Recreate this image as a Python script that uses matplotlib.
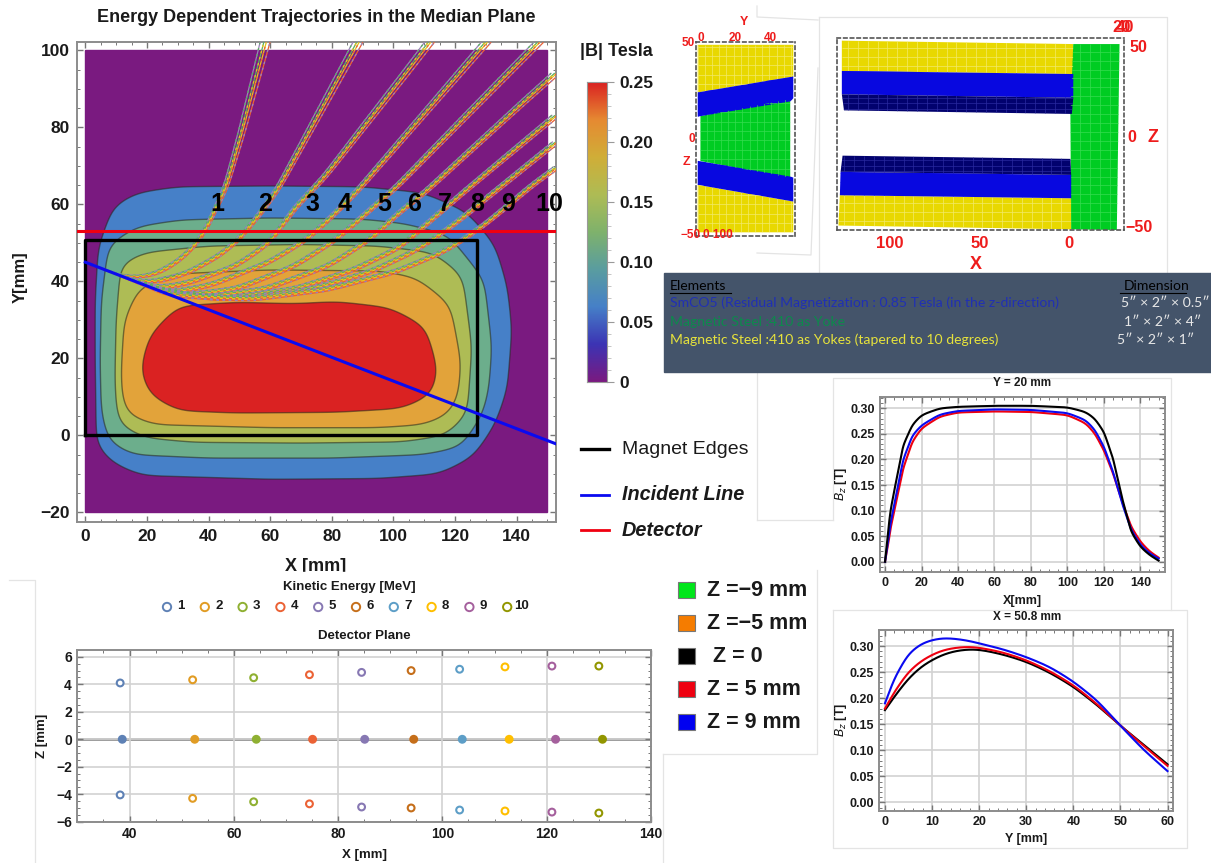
#!/usr/bin/env python
# -*- coding: utf-8 -*-
"""
Magnet spectrometer summary figure: median plane field map with trajectories,
magnet geometry views, detector plane hits and Bz profiles
"""

import numpy as np
import matplotlib

matplotlib.use("Agg")
import matplotlib.pyplot as plt
from matplotlib.colors import LinearSegmentedColormap
from matplotlib.patches import Polygon

plt.rcParams["font.family"] = ["Liberation Sans", "DejaVu Sans"]

W, H = 1211, 863

# field contours in the median plane, X and Y in mm
LEVEL_COLORS = ("#4680c8", "#6cae8c", "#aebc55", "#e2a33a", "#da2222")
BLUE_X = [3.2, 3.2, 4.2, 9, 16.5, 30, 60, 90, 110, 124, 133, 137, 138.5, 137, 133, 126, 115, 95, 60, 18, 8.5, 3.6]
BLUE_Y = [20, 35, 49, 59.5, 63, 64.6, 64.8, 64.6, 63, 58, 49.5, 38.7, 27.5, 12, 2.8, -5.5, -10, -11.2, -11.4, -10.4, -7, -2.5]
TEAL_X = [4.8, 5.2, 7.5, 16.5, 31, 60, 90, 104, 118, 129.5, 132, 131, 129, 122, 110, 80, 40, 15, 7.5, 5.2]
TEAL_Y = [19, 35, 49.5, 54.2, 56, 56.5, 56.2, 55, 52, 40.5, 23, 12, 5.5, -3, -5, -5.9, -5.9, -5, -1.5, 6]
OLIVE_X = [9.6, 10, 11.5, 19, 40, 70, 95, 113, 122.5, 125.5, 124, 117, 103, 70, 35, 19, 11, 10]
OLIVE_Y = [14.5, 30, 44.5, 47.5, 49.2, 49.6, 49.2, 47.5, 41.5, 23, 5.5, 0, -1.7, -2, -1.8, -0.6, 2.8, 8]
ORANGE_X = [11.6, 12.6, 17.5, 30, 60, 96, 107.5, 118.5, 122, 121, 118, 110, 95, 60, 22, 13.5, 12]
ORANGE_Y = [16, 30, 38.5, 42, 43, 42.7, 41, 34, 19, 10, 5.5, 2.8, 2, 2, 2.8, 5.5, 10]
RED_X = [17.8, 20.8, 30, 49, 68, 81.6, 99, 110.5, 114.5, 112.5, 103, 81.6, 49, 30, 20.8]
RED_Y = [17, 26, 33.6, 34.6, 34.2, 34.8, 33.2, 28.2, 17, 10.6, 7, 6, 5.8, 6.4, 10.6]
CONTOURS = (
    (BLUE_X, BLUE_Y),
    (TEAL_X, TEAL_Y),
    (OLIVE_X, OLIVE_Y),
    (ORANGE_X, ORANGE_Y),
    (RED_X, RED_Y),
)

# trajectories for each energy, read along the middle of the bundle
TRAJ_X = (
    [0, 10, 17, 22.8, 29.6, 35, 39.2, 42.6, 45.4, 50.5, 58.3],
    [0, 14, 21.4, 32.4, 43.3, 50, 57, 62.4, 70, 80, 88.4],
    [0, 15, 24, 33.7, 48.8, 59.7, 67.9, 77.5, 88, 100, 111.6],
    [0, 17, 27, 40.6, 59.7, 72, 80.2, 87.7, 100, 115, 130],
    [0, 20, 31, 48.8, 67.9, 81.6, 92.5, 100.7, 115, 130, 147],
    [0, 22, 37.8, 58.3, 78.8, 92.5, 102, 110, 125, 140, 152.6],
    [0, 24, 43, 67.9, 87, 102, 110, 122.5, 135, 145, 152.6],
    [0, 26, 50, 73.4, 92.5, 106, 112, 120, 135, 145, 152.6],
    [0, 28, 54, 78.8, 100.7, 115.7, 122, 130, 137.6, 145, 152.6],
)
TRAJ_Y = (
    [45, 41.8, 41, 41.9, 44.9, 48.8, 53.5, 59.6, 63.9, 78, 102],
    [45, 40.7, 39.7, 41.9, 46.6, 51, 57.9, 63.9, 75, 89.7, 102],
    [45, 40.4, 38.2, 39.7, 44, 50, 59, 67, 77.8, 90, 102],
    [45, 39.8, 37, 39, 45, 51, 57, 63, 74.3, 88.2, 102],
    [45, 38.9, 36.3, 38, 44, 51, 58.7, 64.3, 76, 88.2, 102],
    [45, 38.3, 35.8, 38, 44, 51, 58, 63, 74, 85, 94],
    [45, 37.7, 35.4, 38, 43, 48.8, 54.4, 63, 71.3, 78, 83],
    [45, 37, 35.4, 38, 42.5, 47.5, 50.5, 55, 64.7, 71.2, 76],
    [45, 36.4, 35.4, 38, 42.5, 47.5, 50.5, 55, 60, 65, 69.4],
)
BUNDLE_SPREAD = (-1.6, -0.4, 0.4, 1.6)
BUNDLE_COLORS = ("#9a82bb", "#58b060", "#e8c41c", "#ee6030")

ENERGY_LABEL_X = [42.9, 58.3, 73.6, 84.3, 96.9, 106.8, 116.8, 127.3, 137.3, 150.5]
ENERGY_LABELS = ["1", "2", "3", "4", "5", "6", "7", "8", "9", "10"]

MAGNET_X = [0, 127, 127, 0, 0]
MAGNET_Y = [0, 0, 50.8, 50.8, 0]
DETECTOR_X = [-3, 153]
DETECTOR_Y = [53, 53]
INCIDENT_X = [0, 152.8]
INCIDENT_Y = [45, -2.2]

CBAR_COLORS = ["#7a1a80", "#3c34b4", "#4680c8", "#5a9da0", "#7fb26c", "#aebc55", "#d0ae38", "#e68a32", "#da2222"]
CBAR_TICKS = [0, 0.05, 0.10, 0.15, 0.20, 0.25]
CBAR_LABELS = ["0", "0.05", "0.10", "0.15", "0.20", "0.25"]

# detector plane hits
ENERGY_COLORS = ("#5e81b5", "#e19c24", "#8fb032", "#eb6235", "#8778b3", "#c56e1a", "#5d9ec7", "#ffbf00", "#a5609d", "#929600")
HIT_X = [38.2, 52.1, 63.8, 74.5, 84.5, 94, 103.3, 112, 121, 130]
HIT_Z_UP = [4.1, 4.33, 4.48, 4.7, 4.87, 5.0, 5.1, 5.27, 5.33, 5.33]
HIT_Z_DOWN = [-4.05, -4.3, -4.55, -4.7, -4.93, -5.0, -5.15, -5.22, -5.3, -5.37]
HIT_X_MID = [38.6, 52.5, 64.3, 75.1, 85.1, 94.5, 103.8, 112.8, 121.7, 130.7]
HIT_Z_MID = [0, 0, 0, 0, 0, 0, 0, 0, 0, 0]

# Bz at Y = 20 mm
PROF_X = [0, 1, 2, 3, 5, 10, 15, 20, 30, 40, 60, 80, 100, 110, 115, 120, 125, 130, 135, 140, 145, 150]
BZ_X_BLACK = [0, 0.035, 0.07, 0.1, 0.138, 0.228, 0.268, 0.287, 0.300, 0.303, 0.305, 0.305, 0.302, 0.293, 0.280, 0.254, 0.202, 0.124, 0.058, 0.029, 0.013, 0.002]
BZ_X_BLUE = [0, 0.025, 0.05, 0.075, 0.111, 0.2, 0.247, 0.267, 0.288, 0.295, 0.298, 0.297, 0.291, 0.277, 0.258, 0.225, 0.176, 0.114, 0.062, 0.033, 0.016, 0.006]
BZ_X_RED = [0, 0.02, 0.04, 0.065, 0.098, 0.183, 0.235, 0.261, 0.284, 0.292, 0.294, 0.293, 0.287, 0.271, 0.251, 0.218, 0.173, 0.117, 0.068, 0.039, 0.020, 0.008]

# Bz at X = 50.8 mm
PROF_Y = [0, 2, 5, 8, 12, 15, 18, 20, 25, 30, 35, 40, 45, 50, 55, 60]
BZ_Y_BLACK = [0.177, 0.203, 0.238, 0.263, 0.283, 0.291, 0.294, 0.2935, 0.284, 0.270, 0.249, 0.222, 0.187, 0.147, 0.110, 0.073]
BZ_Y_RED = [0.180, 0.212, 0.251, 0.274, 0.292, 0.297, 0.299, 0.297, 0.288, 0.273, 0.252, 0.225, 0.189, 0.147, 0.108, 0.070]
BZ_Y_BLUE = [0.190, 0.238, 0.286, 0.307, 0.316, 0.314, 0.310, 0.305, 0.294, 0.279, 0.260, 0.232, 0.196, 0.147, 0.100, 0.060]

# magnet views, side view (Y, Z) and front view (X, Z)
SIDE_YOKE_UP_Y = [0, 56, 56, 0]
SIDE_YOKE_UP_Z = [50, 50, 33, 24.6]
SIDE_YOKE_DOWN_Y = [0, 56, 56, 0]
SIDE_YOKE_DOWN_Z = [-50, -50, -33.6, -24.7]
SIDE_STEEL_Y = [1.6, 54.2, 54.2, 1.6]
SIDE_STEEL_Z = [12, 21, -21, -12]
SIDE_MAG_UP_Y = [0, 56, 56, 54.2, 0]
SIDE_MAG_UP_Z = [24.6, 33.1, 21.5, 19.8, 11.7]
SIDE_MAG_DOWN_Y = [0, 54.2, 56, 56, 0]
SIDE_MAG_DOWN_Z = [-11.9, -20.3, -20.8, -33.6, -24.7]

FRONT_YOKE_UP_X = [126.9, -2.2, -2.2, 126.9]
FRONT_YOKE_UP_Z = [54.2, 52.3, 35.5, 37.2]
FRONT_YOKE_DOWN_X = [128, -1, -1, 128.8]
FRONT_YOKE_DOWN_Z = [-32.5, -34.2, -51.6, -49.5]
FRONT_STEEL_X = [-2.2, -28, -26.5, -1, -0.6]
FRONT_STEEL_Z = [52.3, 52.3, -52, -51.6, 13]
FRONT_MAG_UP_X = [126.9, -2.2, -2.2, 126.9]
FRONT_MAG_UP_Z = [37.2, 35.5, 22.2, 24.1]
FRONT_DARK_UP_X = [126.9, -2.2, -1.4, 125.7]
FRONT_DARK_UP_Z = [24.1, 22.2, 13.1, 15.1]
FRONT_DARK_DOWN_X = [126.5, -0.6, -1, 127.6]
FRONT_DARK_DOWN_Z = [-10.3, -12.1, -21.1, -19.4]
FRONT_MAG_DOWN_X = [127.6, -1, -1, 128]
FRONT_MAG_DOWN_Z = [-19.4, -21.1, -34.2, -32.5]

ELEMENT_ROWS = (
    ("SmCO5 (Residual Magnetization : 0.85 Tesla (in the z-direction)", "#2030b4", 303),
    ("Magnetic Steel :410 as Yoke", "#0c8a4c", 322),
    ("Magnetic Steel :410 as Yokes (tapered to 10 degrees)", "#e6e23c", 340),
)
DIMENSION_ROWS = (
    ("5\u2033 \u00d7 2\u2033 \u00d7 0.5\u2033", 1121, 303),
    ("1\u2033 \u00d7 2\u2033 \u00d7 4\u2033", 1124, 322),
    ("5\u2033 \u00d7 2\u2033 \u00d7 1\u2033", 1117, 340),
)
Z_LEGEND = (
    ("#00e61a", "Z =\u22129 mm", 590, 707),
    ("#f57c00", "Z =\u22125 mm", 623, 707),
    ("#000000", " Z = 0", 656, 707),
    ("#ee0010", "Z = 5 mm", 689, 707),
    ("#0000f0", "Z = 9 mm", 722, 707),
)
# leftovers of the pasted panels, in pixels
PASTE_LINES = (
    ((757, 757, 818), (6, 17, 20)),
    ((819, 819), (17, 273)),
    ((819, 1167, 1167), (17, 17, 273)),
    ((757, 811, 818), (253, 255, 68)),
    ((757, 757), (372, 520)),
    ((757, 833), (520, 520)),
    ((833, 833, 1171, 1171), (520, 378, 378, 610)),
    ((833, 833, 1187, 1187, 833), (610, 848, 848, 610, 610)),
    ((9, 34.5, 34.5), (580, 580, 863)),
    ((663, 663), (863, 754)),
    ((663, 817, 817), (754, 754, 570)),
)


def px_axes(fig, left, top, right, bottom):
    """Axes placed by its pixel edges in the reference picture"""
    return fig.add_axes([left / W, 1 - bottom / H, (right - left) / W, (bottom - top) / H])


def smooth(xs, ys, scale, sigma, closed=False):
    """Round the read polyline: resample by pixel arc length, then gaussian filter"""
    x = np.asarray(xs, float) * scale[0]
    y = np.asarray(ys, float) * scale[1]
    if closed:
        x = np.r_[x, x[0]]
        y = np.r_[y, y[0]]
    s = np.r_[0, np.cumsum(np.hypot(np.diff(x), np.diff(y)))]
    t = np.arange(0, s[-1], 0.5)
    if not closed:
        t = np.r_[t, s[-1]]
    xi, yi = np.interp(t, s, x), np.interp(t, s, y)
    r = int(6 * sigma)
    kernel = np.exp(-0.5 * (np.arange(-r, r + 1) * 0.5 / sigma) ** 2)
    kernel /= kernel.sum()
    out = []
    for v in (xi, yi):
        if closed:
            pad = np.r_[v[-r:], v, v[:r]]
        else:
            pad = np.r_[2 * v[0] - v[r:0:-1], v, 2 * v[-1] - v[-2 : -r - 2 : -1]]
        out.append(np.convolve(pad, kernel, mode="valid"))
    return out[0] / scale[0], out[1] / scale[1]


def style_frame(ax, xmajor, xminor, ymajor, yminor, labelsize=12, pad=5, ylabels=None):
    for spine in ax.spines.values():
        spine.set_color("#8c8c8c")
        spine.set_linewidth(1.4)
    ax.set_xticks(xmajor)
    ax.set_xticks(xminor, minor=True)
    ax.set_yticks(ymajor)
    ax.set_yticks(yminor, minor=True)
    ax.tick_params(which="major", direction="in", top=True, right=True, length=4.5, width=1, color="#777777", labelsize=labelsize, pad=pad)
    ax.tick_params(which="minor", direction="in", top=True, right=True, length=2.5, width=0.7, color="#777777")
    if ylabels is not None:
        ax.set_yticklabels(ylabels)
    for lab in ax.get_xticklabels() + ax.get_yticklabels():
        lab.set_fontweight("bold")
        lab.set_color("#1a1a1a")


def draw_panel(ax, xs, zs, color, mesh, step_x, step_z):
    patch = Polygon(np.column_stack((xs, zs)), closed=True, facecolor=color, edgecolor="none", zorder=2)
    ax.add_patch(patch)
    gx = np.arange(np.floor(min(xs)), max(xs), step_x)
    gz = np.arange(np.floor(min(zs)), max(zs), step_z)
    vl = ax.vlines(gx, min(zs), max(zs), color=mesh, lw=0.5, zorder=3)
    hl = ax.hlines(gz, min(xs), max(xs), color=mesh, lw=0.5, zorder=3)
    vl.set_clip_path(patch)
    hl.set_clip_path(patch)


def view_frame(ax):
    ax.set_xticks([])
    ax.set_yticks([])
    ax.patch.set_alpha(0)
    for spine in ax.spines.values():
        spine.set_linestyle((0, (2, 2)))
        spine.set_color("#555555")
        spine.set_linewidth(1.2)


def main():
    fig = plt.figure(figsize=(W / 100, H / 100), dpi=100, facecolor="white")

    # median plane map
    ax = px_axes(fig, 77, 42, 556, 522)
    ax.set_xlim(-2.7, 152.8)
    ax.set_ylim(-22.5, 102.2)
    map_scale = (3.08, 3.86)
    ax.fill([0, 150, 150, 0], [-20, -20, 100, 100], color="#7a1a80", zorder=1)
    for (xs, ys), col in zip(CONTOURS, LEVEL_COLORS):
        sx, sy = smooth(xs, ys, map_scale, 11, closed=True)
        ax.fill(sx, sy, facecolor=col, edgecolor=(0.15, 0.15, 0.1, 0.55), lw=1, zorder=2)
    for xs, ys in zip(TRAJ_X, TRAJ_Y):
        sx, sy = smooth(xs, ys, map_scale, 9)
        for spread, col, dash_col in zip(BUNDLE_SPREAD, BUNDLE_COLORS, BUNDLE_COLORS[1:] + BUNDLE_COLORS[:1]):
            ramp = np.clip((sx - 5) / 20, 0, 1)
            fan = np.clip((sy - 38) / 62, 0, 1) * ramp
            ox = sx + spread * fan
            oy = sy - 0.35 * spread * ramp * (1 - fan)
            ax.plot(ox, oy, color=col, lw=0.9, zorder=3)
            ax.plot(ox, oy, color=dash_col, lw=0.9, ls=(0, (2, 3)), zorder=3.1)
    ax.plot(DETECTOR_X, DETECTOR_Y, color="#f00010", lw=2.2, zorder=5)
    ax.plot(MAGNET_X, MAGNET_Y, color="black", lw=2.4, zorder=5)
    ax.plot(INCIDENT_X, INCIDENT_Y, color="#0a0af0", lw=2.2, zorder=6)
    for xp, lab in zip(ENERGY_LABEL_X, ENERGY_LABELS):
        ax.text(xp, 60, lab, ha="center", va="center", fontsize=18, fontweight="bold", color="black", zorder=7, clip_on=False)
    main_y = np.arange(-20, 101, 20)
    style_frame(ax, np.arange(0, 141, 20), np.arange(0, 153, 5), main_y, np.arange(-20, 101, 5), labelsize=12.5,
                ylabels=[str(v).replace("-", "\u2212") for v in main_y])

    # colour bar
    cax = px_axes(fig, 587, 82, 607, 382)
    cmap = LinearSegmentedColormap.from_list("field", CBAR_COLORS)
    cax.imshow(np.linspace(0.25, 0, 256)[:, None], cmap=cmap, aspect="auto", extent=(0, 1, 0, 0.25))
    cax.set_xticks([])
    cax.set_yticks(CBAR_TICKS)
    cax.set_yticklabels(CBAR_LABELS, fontweight="bold", fontsize=12.5, color="#1a1a1a")
    cax.set_yticks(np.arange(0, 0.2501, 0.01), minor=True)
    cax.yaxis.tick_right()
    cax.tick_params(which="major", direction="out", length=5, width=0.8, color="#999999", pad=4)
    cax.tick_params(which="minor", direction="out", length=3, width=0.6, color="#bbbbbb")
    for spine in cax.spines.values():
        spine.set_color("#999999")

    # side view of the magnet
    sv = px_axes(fig, 696, 42, 795, 236)
    sv.set_xlim(-1, 57)
    sv.set_ylim(-52, 51.5)
    draw_panel(sv, SIDE_YOKE_UP_Y, SIDE_YOKE_UP_Z, "#e8d800", "#f3ea6a", 4.2, 5)
    draw_panel(sv, SIDE_YOKE_DOWN_Y, SIDE_YOKE_DOWN_Z, "#e8d800", "#f3ea6a", 4.2, 5)
    draw_panel(sv, SIDE_STEEL_Y, SIDE_STEEL_Z, "#00cc22", "#36dc50", 4.2, 5)
    draw_panel(sv, SIDE_MAG_UP_Y, SIDE_MAG_UP_Z, "#0808e0", "#0808e0", 4.2, 5)
    draw_panel(sv, SIDE_MAG_DOWN_Y, SIDE_MAG_DOWN_Z, "#0808e0", "#0808e0", 4.2, 5)
    view_frame(sv)

    # front view of the magnet
    fv = px_axes(fig, 837, 38, 1124, 230)
    fv.set_xlim(129.6, -30.5)
    fv.set_ylim(-52, 55.7)
    draw_panel(fv, FRONT_YOKE_UP_X, FRONT_YOKE_UP_Z, "#e8d800", "#f3ea6a", 5.5, 5)
    draw_panel(fv, FRONT_YOKE_DOWN_X, FRONT_YOKE_DOWN_Z, "#e8d800", "#f3ea6a", 5.5, 5)
    draw_panel(fv, FRONT_STEEL_X, FRONT_STEEL_Z, "#00cc22", "#36dc50", 5.5, 5)
    draw_panel(fv, FRONT_MAG_UP_X, FRONT_MAG_UP_Z, "#0808e0", "#0808e0", 5.5, 5)
    draw_panel(fv, FRONT_MAG_DOWN_X, FRONT_MAG_DOWN_Z, "#0808e0", "#0808e0", 5.5, 5)
    draw_panel(fv, FRONT_DARK_UP_X, FRONT_DARK_UP_Z, "#02026e", "#2a2aa0", 5.5, 3)
    draw_panel(fv, FRONT_DARK_DOWN_X, FRONT_DARK_DOWN_Z, "#02026e", "#2a2aa0", 5.5, 3)
    view_frame(fv)

    # detector plane
    dp = px_axes(fig, 77.4, 650, 651, 821.7)
    dp.set_xlim(30, 140)
    dp.set_ylim(-6, 6)
    dp.grid(True, which="major", color="#d2d2d2", lw=1.2)
    dp.axhline(0, color="#808080", lw=1.8, zorder=1.5)
    for row_x, row_z, face in (
        (HIT_X, HIT_Z_UP, "white"),
        (HIT_X, HIT_Z_DOWN, "white"),
        (HIT_X_MID, HIT_Z_MID, list(ENERGY_COLORS)),
    ):
        dp.scatter(row_x, row_z, s=24, facecolors=face, edgecolors=list(ENERGY_COLORS), linewidths=1.5, zorder=3, clip_on=False)
    dp_y = np.arange(-6, 7, 2)
    style_frame(dp, np.arange(40, 141, 20), np.arange(30, 141, 5), dp_y, np.arange(-6, 7, 0.5), labelsize=10, pad=4,
                ylabels=[str(v).replace("-", "\u2212") for v in dp_y])

    # Bz along X
    bz_ticks = np.arange(0, 0.31, 0.05)
    bz_labels = ["%.2f" % v for v in bz_ticks]
    p1 = px_axes(fig, 880.3, 396.7, 1165, 571.7)
    p1.set_xlim(-2.6, 153.5)
    p1.set_ylim(-0.0196, 0.3228)
    p1.grid(True, which="major", color="#d2d2d2", lw=1.2)
    for vals, col in ((BZ_X_RED, "#ee0010"), (BZ_X_BLUE, "#0a0af0"), (BZ_X_BLACK, "black")):
        p1.plot(*smooth(PROF_X, vals, (1.82, 511), 4), color=col, lw=1.5)
    style_frame(p1, np.arange(0, 141, 20), np.arange(0, 151, 5), bz_ticks, np.arange(-0.01, 0.321, 0.01), labelsize=9, pad=4, ylabels=bz_labels)

    # Bz along Y
    p2 = px_axes(fig, 879.3, 630, 1172.7, 810.7)
    p2.set_xlim(-1.2, 61.1)
    p2.set_ylim(-0.016, 0.3307)
    p2.grid(True, which="major", color="#d2d2d2", lw=1.2)
    for vals, col in ((BZ_Y_BLACK, "black"), (BZ_Y_RED, "#ee0010"), (BZ_Y_BLUE, "#0a0af0")):
        p2.plot(*smooth(PROF_Y, vals, (4.7, 520), 8), color=col, lw=1.5)
    style_frame(p2, np.arange(0, 61, 10), np.arange(0, 61, 2), bz_ticks, np.arange(-0.01, 0.331, 0.01), labelsize=9, pad=4, ylabels=bz_labels)

    # everything placed by pixel on top
    ov = fig.add_axes([0, 0, 1, 1], zorder=10)
    ov.set_xlim(0, W)
    ov.set_ylim(H, 0)
    ov.axis("off")

    def txt(x, y, s, size=11, weight="bold", color="#1a1a1a", ha="left", **kw):
        ov.text(x, y, s, fontsize=size, fontweight=weight, color=color, ha=ha, va="center", **kw)

    for xs, ys in PASTE_LINES:
        ov.plot(xs, ys, color="#e4e4e4", lw=0.9, zorder=0)

    txt(316, 18, "Energy Dependent Trajectories in the Median Plane", size=13, ha="center")
    txt(20, 277, "Y[mm]", size=12, rotation=90, ha="center")
    txt(316, 566, "X [mm]", size=13, ha="center")
    ov.fill([285, 350, 350, 285], [572, 572, 577, 577], color="white", zorder=3)
    txt(580, 52, "|B| Tesla", size=13)

    ov.plot([581, 609], [449, 449], color="black", lw=2.4)
    ov.plot([581, 609], [495, 495], color="#0a0af0", lw=2)
    ov.plot([581, 609], [530, 530], color="#f00010", lw=2)
    txt(622, 449, "Magnet Edges", size=14, weight="normal")
    txt(622, 494, "Incident Line", size=14.3, style="italic")
    txt(622, 530, "Detector", size=14.3, style="italic")

    # red labels of the magnet views
    red = "#ee1c1c"
    txt(744, 22, "Y", size=9, color=red, ha="center")
    for xp, lab in ((701, "0"), (735.5, "20"), (770, "40")):
        txt(xp, 38, lab, size=8.5, color=red, ha="center")
    txt(688, 43, "50", size=8.5, color=red, ha="center")
    txt(692, 139, "0", size=8.5, color=red, ha="center")
    txt(686, 162, "Z", size=9, color=red, ha="center")
    txt(691, 235, "\u221250", size=8.5, color=red, ha="center")
    txt(703, 235, "0 100", size=8.5, color=red)
    txt(1122, 28, "20", size=12, color=red, ha="center")
    txt(1125, 28, "40", size=12, color=red, ha="center")
    txt(1129, 48, "50", size=11.5, color=red)
    txt(1127, 137, "0", size=11.5, color=red)
    txt(1148, 138, "Z", size=13, color=red)
    txt(1125, 227, "\u221250", size=11.5, color=red)
    for xp, lab in ((890, "100"), (980, "50"), (1069, "0")):
        txt(xp, 243, lab, size=12, color=red, ha="center")
    txt(976, 264, "X", size=13, color=red, ha="center")

    # element table
    ov.fill([663.5, 1211, 1211, 663.5], [273, 273, 372, 372], color="#44546a", zorder=1)
    txt(670, 286, "Elements", size=10.1, weight="normal", color="black", family="Lato", zorder=4)
    ov.plot([670, 731], [293, 293], color="black", lw=0.8, zorder=4)
    txt(1124, 286, "Dimension", size=10.1, weight="normal", color="black", family="Lato", zorder=4)
    ov.plot([1120, 1186], [293, 293], color="black", lw=0.8, zorder=4)
    for lab, col, yp in ELEMENT_ROWS:
        txt(670, yp, lab, size=10.1, weight="normal", color=col, family="Lato", zorder=4)
    for lab, xp, yp in DIMENSION_ROWS:
        txt(xp, yp, lab, size=10.1, weight="normal", color="#e8e8e8", family="Lato", zorder=4)

    # kinetic energy key and detector plot labels
    txt(349, 587, "Kinetic Energy [MeV]", size=9.5, ha="center")
    key_x = 167 + 37.8 * np.arange(len(ENERGY_LABELS))
    ov.scatter(key_x, [607] * len(key_x), s=36, facecolors="white", edgecolors=list(ENERGY_COLORS), linewidths=1.4)
    for xp, lab in zip(key_x, ENERGY_LABELS):
        txt(xp + 14, 606, lab, size=9.5, ha="center")
    txt(364, 636, "Detector Plane", size=9.5, ha="center")
    txt(364, 855, "X [mm]", size=9.5, ha="center")
    txt(42, 736, "Z [mm]", size=9.5, rotation=90, ha="center")

    # Z key
    for col, lab, yp, xp in Z_LEGEND:
        ov.fill([678, 694.5, 694.5, 678], [yp - 8, yp - 8, yp + 8, yp + 8], facecolor=col, edgecolor="#777777", lw=0.8)
        txt(xp, yp, lab, size=15.5)

    # Bz plot labels
    txt(1022, 383, "Y = 20 mm", size=8.5, ha="center")
    txt(1022, 601, "X[mm]", size=9, ha="center")
    txt(841, 484, r"$\mathbf{\mathit{B_z}}$ [T]", size=9, rotation=90, ha="center")
    txt(1027, 617, "X = 50.8 mm", size=8.5, ha="center")
    txt(1026, 839, "Y [mm]", size=9, ha="center")
    txt(841, 720, r"$\mathbf{\mathit{B_z}}$ [T]", size=9, rotation=90, ha="center")

    fig.savefig("out.png", dpi=100)


main()
